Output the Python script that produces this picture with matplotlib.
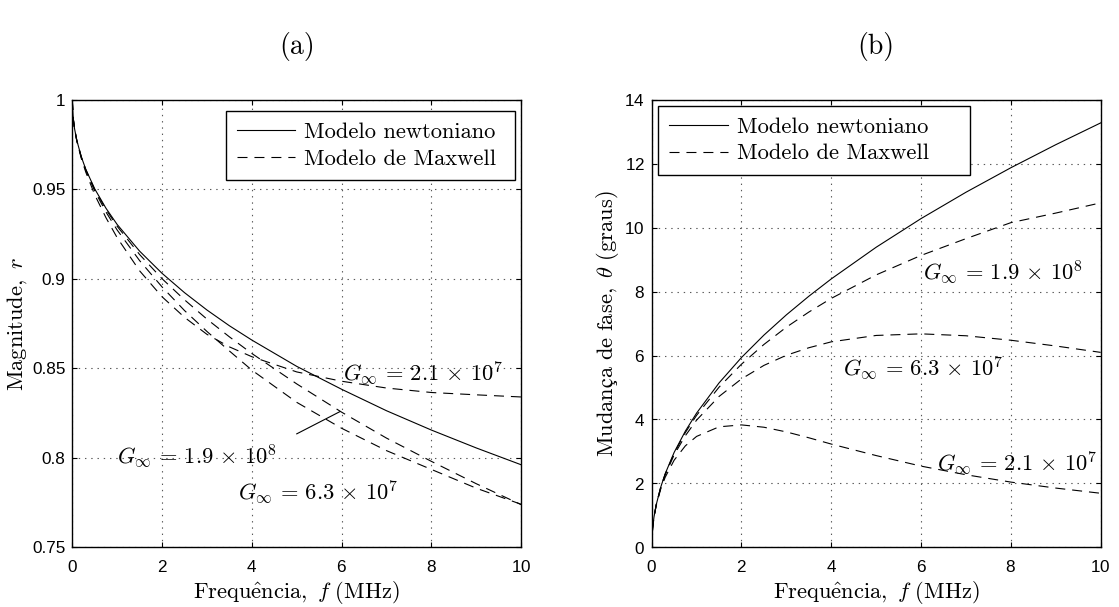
import matplotlib.pyplot as plt
import matplotlib as mpl

mpl.rcParams["mathtext.fontset"] = "cm"
mpl.rcParams["font.family"] = ["cmr10", "DejaVu Serif"]
mpl.rcParams["axes.formatter.use_mathtext"] = True
mpl.rcParams["lines.scale_dashes"] = False

# frequency samples (MHz)
freq = [0, 0.02, 0.05, 0.1, 0.2, 0.3, 0.5, 0.75, 1, 1.5, 2, 2.5, 3, 3.5, 4, 5, 6, 7, 8, 9, 10]

# (a) magnitude r
mag_newton = [1.0, 0.9899, 0.9840, 0.9775, 0.9683, 0.9613, 0.9503, 0.9395, 0.9304, 0.9155, 0.9031,
              0.8923, 0.8826, 0.8738, 0.8658, 0.8511, 0.8383, 0.8263, 0.8155, 0.8055, 0.7961]
mag_g21 = [1.0, 0.9899, 0.9839, 0.9771, 0.9674, 0.9597, 0.9470, 0.9342, 0.9230, 0.9045, 0.8900,
           0.8785, 0.8690, 0.8620, 0.8565, 0.8480, 0.8428, 0.8390, 0.8365, 0.8352, 0.8340]
mag_g63 = [1.0, 0.9899, 0.9840, 0.9774, 0.9680, 0.9607, 0.9491, 0.9374, 0.9273, 0.9102, 0.8955,
           0.8823, 0.8706, 0.8597, 0.8490, 0.8310, 0.8165, 0.8040, 0.7935, 0.7830, 0.7740]
mag_g19 = [1.0, 0.9899, 0.9840, 0.9775, 0.9682, 0.9611, 0.9499, 0.9388, 0.9294, 0.9136, 0.9001,
           0.8883, 0.8775, 0.8676, 0.8583, 0.8413, 0.8255, 0.8110, 0.7980, 0.7855, 0.7738]

# (b) phase shift theta (degrees)
ph_newton = [0, 0.594, 0.939, 1.328, 1.878, 2.300, 2.970, 3.637, 4.200, 5.144, 5.940,
             6.641, 7.275, 7.857, 8.400, 9.391, 10.288, 11.112, 11.879, 12.600, 13.282]
ph_g19 = [0, 0.594, 0.938, 1.326, 1.872, 2.288, 2.945, 3.592, 4.130, 5.011, 5.731,
          6.348, 6.889, 7.362, 7.790, 8.525, 9.135, 9.660, 10.160, 10.460, 10.780]
ph_g63 = [0, 0.594, 0.937, 1.321, 1.859, 2.266, 2.893, 3.493, 3.980, 4.720, 5.270,
          5.693, 6.010, 6.245, 6.430, 6.630, 6.680, 6.620, 6.480, 6.300, 6.100]
ph_g21 = [0, 0.592, 0.932, 1.308, 1.820, 2.190, 2.726, 3.175, 3.470, 3.770, 3.830,
          3.757, 3.610, 3.427, 3.230, 2.870, 2.540, 2.270, 2.040, 1.853, 1.690]

xticks = [0, 2, 4, 6, 8, 10]
yticks_a = [0.75, 0.8, 0.85, 0.9, 0.95, 1]
ytick_labels_a = ["0.75", "0.8", "0.85", "0.9", "0.95", "1"]
yticks_b = [0, 2, 4, 6, 8, 10, 12, 14]

legend_labels = ["Modelo newtoniano", "Modelo de Maxwell"]
g_labels = [r"$G_\infty\,=\,2.1\,\times\,10^7$", r"$G_\infty\,=\,6.3\,\times\,10^7$",
            r"$G_\infty\,=\,1.9\,\times\,10^8$"]
xlabel = r"$\mathrm{Frequ\hat{e}ncia,}\ f\ \mathrm{(MHz)}$"
ylabel_a = r"$\mathrm{Magnitude,}\ r$"
ylabel_b = r"$\mathrm{Mudança\ de\ fase,}\ \theta\ \mathrm{(graus)}$"

TXT = 16.2
TICK = 12.3
DASH = (0, (7.2, 5.0))
LW = 0.8

fig = plt.figure(figsize=(11.19, 6.07), dpi=100)
ax_a = fig.add_axes([0.0646, 0.0984, 0.4012, 0.7369])
ax_b = fig.add_axes([0.5824, 0.0984, 0.4012, 0.7369])


def style_axes(ax, yticks, ylabels=None):
    ax.set_xlim(0, 10)
    ax.set_xticks(xticks)
    ax.set_yticks(yticks)
    if ylabels is not None:
        ax.set_yticklabels(ylabels)
    for lab in ax.get_xticklabels() + ax.get_yticklabels():
        lab.set_fontfamily("Liberation Sans")
        lab.set_fontsize(TICK)
    ax.tick_params(direction="in", top=True, right=True, length=3.5, width=0.8)
    ax.tick_params(axis="x", pad=8.6)
    ax.tick_params(axis="y", pad=5)
    ax.grid(True, linestyle=(0, (1, 3.5)), color="0.35", linewidth=0.8)
    for s in ax.spines.values():
        s.set_linewidth(1.0)
    ax.set_xlabel(xlabel, fontsize=TXT, labelpad=3)


def add_legend(ax, loc, anchor, labels):
    handles = ax.get_lines()[:2]
    leg = ax.legend(handles, labels, loc=loc, bbox_to_anchor=anchor, borderaxespad=0,
                    fontsize=TXT, fancybox=False, edgecolor="black", framealpha=1,
                    handlelength=2.6, handletextpad=0.4, labelspacing=0.3, borderpad=0.5)
    leg.get_frame().set_linewidth(1.0)


# panel (a)
ax_a.plot(freq, mag_newton, color="black", lw=LW)
ax_a.plot(freq, mag_g21, color="black", lw=LW, linestyle=DASH)
ax_a.plot(freq, mag_g63, color="black", lw=LW, linestyle=DASH)
ax_a.plot(freq, mag_g19, color="black", lw=LW, linestyle=DASH)
ax_a.plot([5.0, 5.96], [0.8134, 0.8258], color="black", lw=LW)
ax_a.set_ylim(0.75, 1)
style_axes(ax_a, yticks_a, ytick_labels_a)
ax_a.set_ylabel(ylabel_a, fontsize=TXT, labelpad=2)
ax_a.text(6.03, 0.8475, g_labels[0], fontsize=TXT, va="center", ha="left")
ax_a.text(3.70, 0.7810, g_labels[1], fontsize=TXT, va="center", ha="left")
ax_a.text(1.00, 0.8010, g_labels[2], fontsize=TXT, va="center", ha="left")
add_legend(ax_a, "upper right", (0.9866, 0.975), [s + " " for s in legend_labels])

# panel (b)
ax_b.plot(freq, ph_newton, color="black", lw=LW)
ax_b.plot(freq, ph_g19, color="black", lw=LW, linestyle=DASH)
ax_b.plot(freq, ph_g63, color="black", lw=LW, linestyle=DASH)
ax_b.plot(freq, ph_g21, color="black", lw=LW, linestyle=DASH)
ax_b.set_ylim(0, 14)
style_axes(ax_b, yticks_b)
ax_b.set_ylabel(ylabel_b, fontsize=TXT, labelpad=2)
ax_b.text(6.05, 8.62, g_labels[2], fontsize=TXT, va="center", ha="left")
ax_b.text(4.27, 5.61, g_labels[1], fontsize=TXT, va="center", ha="left")
ax_b.text(6.35, 2.65, g_labels[0], fontsize=TXT, va="center", ha="left")
add_legend(ax_b, "upper left", (0.014, 0.9866), [s + "    " for s in legend_labels])

ax_a.text(0.5, 1.12, "(a)", fontsize=20, ha="center", va="center", transform=ax_a.transAxes)
ax_b.text(0.5, 1.12, "(b)", fontsize=20, ha="center", va="center", transform=ax_b.transAxes)

fig.savefig("out.png", dpi=100)
